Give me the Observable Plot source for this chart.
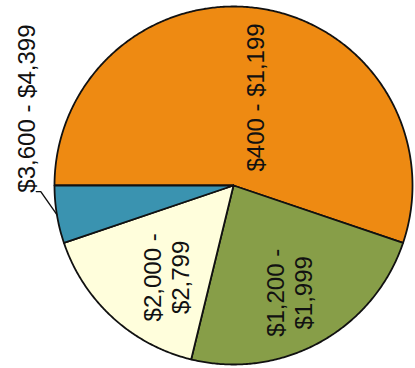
<!DOCTYPE html>
<html><head><meta charset="utf-8">
<script src="https://cdn.jsdelivr.net/npm/d3@7"></script>
<script src="https://cdn.jsdelivr.net/npm/@observablehq/plot@0.6"></script>
<style>body{margin:0;background:#fff}</style>
</head><body><div id="chart"></div>
<script>
const categories = ["$400 - $1,199", "$1,200 - $1,999", "$2,000 - $2,799", "$3,600 - $4,399"];
const shares = [55.2, 23.6, 16.0, 5.2];
const labels = ["$400 - $1,199", "$1,200 -\n$1,999", "$2,000 -\n$2,799", "$3,600 - $4,399"];
const colors = ["#EE8A12", "#879E48", "#FFFEDC", "#3A93B0"];

// d3 angles: clockwise from 12 o'clock; start at 9 o'clock
const arcs = d3.pie().sort(null).startAngle(1.5 * Math.PI).endAngle(3.5 * Math.PI)(shares);
const pt = (a, r) => [r * Math.sin(a), r * Math.cos(a)];

const polys = [];
arcs.forEach((d, i) => {
  const cat = categories[i];
  polys.push({cat, x: 0, y: 0});
  const n = Math.max(2, Math.ceil((d.endAngle - d.startAngle) / (Math.PI / 360)));
  for (let k = 0; k <= n; k++) {
    const a = d.startAngle + (d.endAngle - d.startAngle) * k / n;
    const [x, y] = pt(a, 1);
    polys.push({cat, x, y});
  }
  polys.push({cat, x: 0, y: 0});
});

// inner label placement (radius fraction, angular nudge in degrees)
const place = [[0.506, 4.2], [0.676, 1.3], [0.636, -6.3]];
const inner = place.map(([r, nudge], i) => {
  const a = (arcs[i].startAngle + arcs[i].endAngle) / 2 + nudge * Math.PI / 180;
  const [x, y] = pt(a, r);
  return {x, y, text: labels[i]};
});

// outside label with leader for the small slice
const b = arcs[3];
const [p0x, p0y] = pt((b.startAngle + b.endAngle) / 2, 1);
const leader = [
  {x: p0x, y: p0y},
  {x: p0x - 0.09, y: -0.034},
  {x: p0x - 0.115, y: -0.034}
];
const outer = [{x: p0x - 0.163, y: -0.04, text: labels[3]}];

const chart = Plot.plot({
  width: 415, height: 368,
  marginLeft: 54, marginRight: 3, marginTop: 6, marginBottom: 4,
  x: {domain: [-1, 1], axis: null},
  y: {domain: [-1, 1], axis: null},
  color: {domain: categories, range: colors},
  style: {fontFamily: "'Liberation Sans', Arial, sans-serif", background: "#fff"},
  marks: [
    Plot.line(polys, {x: "x", y: "y", z: "cat", fill: "cat", stroke: "#111", strokeWidth: 1.8, strokeLinejoin: "round"}),
    Plot.line(leader, {x: "x", y: "y", stroke: "#111", strokeWidth: 1.4}),
    Plot.text(inner, {x: "x", y: "y", text: "text", rotate: -90, fontSize: 24, lineHeight: 1.17, fill: "#111"}),
    Plot.text(outer, {x: "x", y: "y", text: "text", rotate: -90, fontSize: 24, textAnchor: "start", fill: "#111"})
  ]
});
document.getElementById("chart").appendChild(chart);
</script>
</body></html>
